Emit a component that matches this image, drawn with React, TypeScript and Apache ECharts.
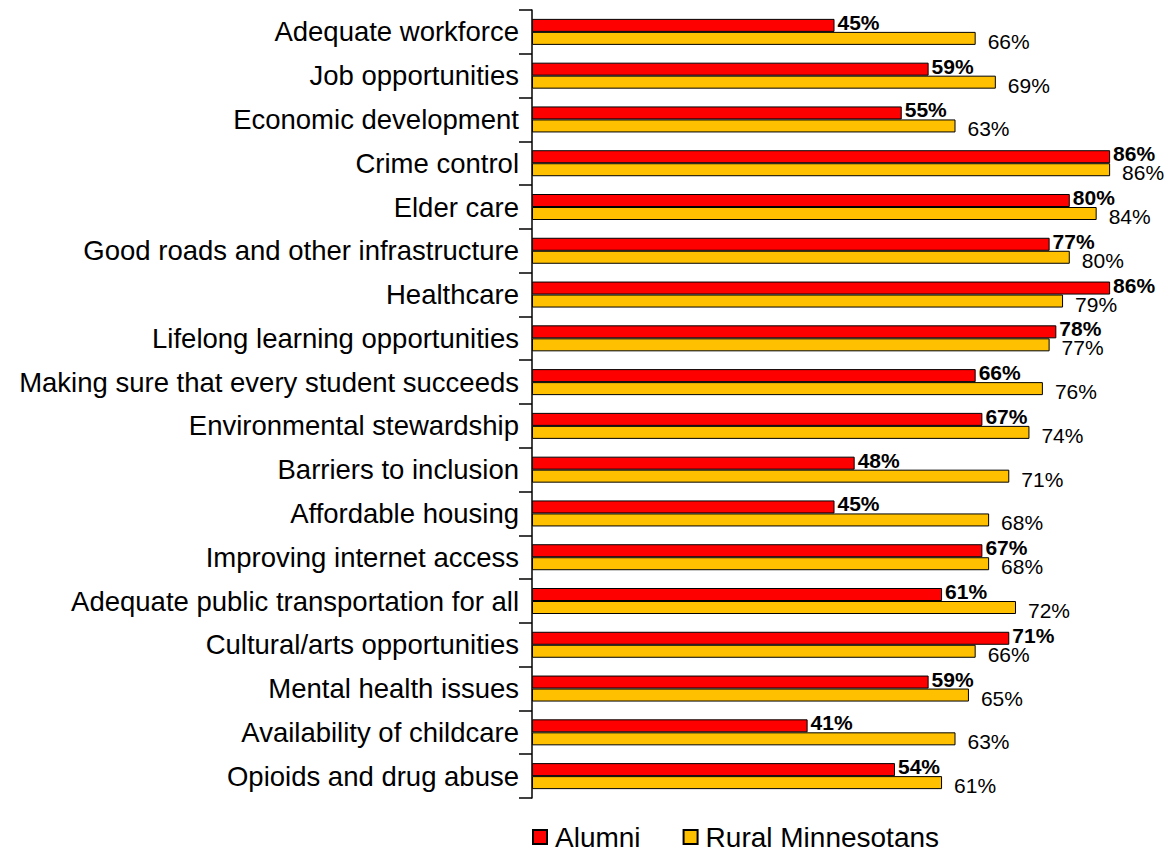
import React, { useEffect, useRef } from "react";
import * as echarts from "echarts";

const categories = [
  "Adequate workforce",
  "Job opportunities",
  "Economic development",
  "Crime control",
  "Elder care",
  "Good roads and other infrastructure",
  "Healthcare",
  "Lifelong learning opportunities",
  "Making sure that every student succeeds",
  "Environmental stewardship",
  "Barriers to inclusion",
  "Affordable housing",
  "Improving internet access",
  "Adequate public transportation for all",
  "Cultural/arts opportunities",
  "Mental health issues",
  "Availability of childcare",
  "Opioids and drug abuse",
];

const alumni = [45, 59, 55, 86, 80, 77, 86, 78, 66, 67, 48, 45, 67, 61, 71, 59, 41, 54];
const rural = [66, 69, 63, 86, 84, 80, 79, 77, 76, 74, 71, 68, 68, 72, 66, 65, 63, 61];

const FONT = "'Liberation Sans', Arial, sans-serif";

export default function App() {
  const ref = useRef<HTMLDivElement>(null);
  useEffect(() => {
    if (!ref.current) return;
    const chart = echarts.init(ref.current, null, { renderer: "svg" });
    chart.setOption({
      animation: false,
      backgroundColor: "#ffffff",
      textStyle: { fontFamily: FONT },
      grid: { left: 532, top: 10, width: 605, height: 788, containLabel: false },
      xAxis: {
        type: "value",
        min: 0,
        max: 90,
        show: false,
      },
      yAxis: {
        type: "category",
        data: categories,
        inverse: true,
        axisLine: { show: true, lineStyle: { color: "#000", width: 1.5 } },
        axisTick: { show: true, length: 13, lineStyle: { color: "#000", width: 1.5 } },
        axisLabel: { color: "#000", fontSize: 27.5, fontFamily: FONT, margin: 13 },
        splitLine: { show: false },
      },
      legend: {
        left: 527,
        top: 817,
        itemWidth: 14,
        itemHeight: 14,
        itemGap: 42,
        icon: "rect",
        textStyle: { fontSize: 28, lineHeight: 30, color: "#000", fontFamily: FONT, padding: [0, 0, 0, 3] },
        data: ["Alumni", "Rural Minnesotans"],
      },
      series: [
        {
          name: "Alumni",
          type: "bar",
          data: alumni,
          barWidth: 13,
          barGap: "0%",
          itemStyle: { color: "#FF0000", borderColor: "#000", borderWidth: 1 },
          label: {
            show: true,
            position: "right",
            distance: 3,
            offset: [0, -3],
            formatter: "{c}%",
            fontSize: 21,
            fontWeight: "bold",
            color: "#000",
            fontFamily: FONT,
          },
        },
        {
          name: "Rural Minnesotans",
          type: "bar",
          data: rural,
          barWidth: 13,
          barGap: "0%",
          itemStyle: { color: "#FFC000", borderColor: "#000", borderWidth: 1 },
          label: {
            show: true,
            position: "right",
            distance: 12,
            offset: [0, 3],
            formatter: "{c}%",
            fontSize: 21,
            color: "#000",
            fontFamily: FONT,
          },
        },
      ],
    });
    return () => chart.dispose();
  }, []);
  return (
    <div
      ref={ref}
      style={{ position: "fixed", left: 0, top: 0, width: 1170, height: 853, background: "#fff" }}
    />
  );
}
